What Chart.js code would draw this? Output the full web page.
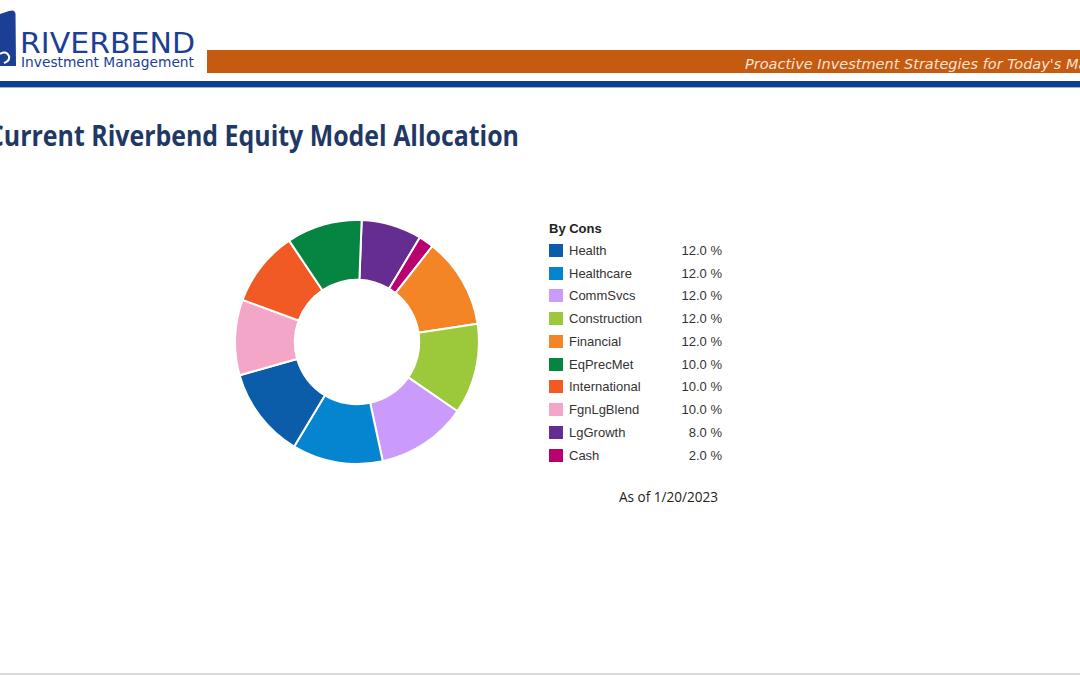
<!DOCTYPE html>
<html>
<head>
<meta charset="utf-8">
<script src="https://cdn.jsdelivr.net/npm/chart.js@4.4.0/dist/chart.umd.min.js"></script>
<style>
  html, body { margin: 0; padding: 0; background: #fff; }
  body { width: 1080px; height: 675px; position: relative; overflow: hidden; font-family: "Liberation Sans", Arial, sans-serif; }
  .abs { position: absolute; white-space: nowrap; }
  .fit { display: inline-block; transform-origin: left center; }
  #orangeBar { left: 207px; top: 50px; width: 873px; height: 23px; background: #C55A11; overflow: hidden; }
  #slogan { left: 538px; top: 5px; font-family: "DejaVu Sans", sans-serif; font-style: italic; font-size: 14.5px; color: #F6E3D3; line-height: 18px; }
  #blueLine { left: 0; top: 81px; width: 1080px; height: 6px; background: #0B3F8F; border-bottom: 1px solid #9fb3d6; }
  #brand { left: 20px; top: 31px; font-family: "DejaVu Sans", sans-serif; font-size: 29px; color: #1C3F94; line-height: 24px; }
  #brandSub { left: 21px; top: 56px; font-family: "DejaVu Sans", sans-serif; font-size: 14px; color: #1C3F94; line-height: 12px; }
  #title { left: -12px; top: 119px; font-family: "Open Sans", sans-serif; font-weight: 700; font-size: 28px; color: #1F3864; line-height: 32px; }
  #chartBox { left: 234px; top: 219px; width: 246px; height: 246px; }
  #legend { left: 549px; top: 219px; width: 175px; color: #333; font-size: 13px; }
  #legend .head { font-weight: 700; color: #222; height: 20px; line-height: 20px; }
  #legend .row { display: flex; align-items: center; height: 22.75px; }
  #legend .sw { width: 14px; height: 13px; margin-right: 6px; flex: none; }
  #legend .lbl { flex: 1; }
  #legend .val { width: 60px; text-align: right; margin-right: 2px; }
  #asOf { left: 619px; top: 487px; font-family: "Open Sans", sans-serif; font-size: 14px; color: #222; line-height: 20px; }
  #footLine { left: 0; top: 673px; width: 1080px; height: 2px; background: #d9d9d9; }
</style>
</head>
<body>

<svg class="abs" style="left:0;top:8px" width="18" height="60" viewBox="0 0 18 60">
  <path d="M0 6 L9 3 Q15 1 15.5 6 L16 58 L0 58 Z" fill="#1C3F94"/>
  <path d="M0 46 Q6 42 9 48 Q10 53 4 55" stroke="#fff" stroke-width="2" fill="none"/>
</svg>
<div class="abs" id="brand"><span class="fit" data-w="175">RIVERBEND</span></div>
<div class="abs" id="brandSub"><span class="fit" data-w="173">Investment Management</span></div>

<div class="abs" id="orangeBar"><div class="abs" id="slogan">Proactive Investment Strategies for Today's Markets</div></div>
<div class="abs" id="blueLine"></div>

<div class="abs" id="title"><span class="fit" data-w="531">Current Riverbend Equity Model Allocation</span></div>

<div class="abs" id="chartBox"><canvas id="allocChart" width="246" height="246"></canvas></div>
<div class="abs" id="legend"></div>
<div class="abs" id="asOf"><span class="fit" data-w="99">As of 1/20/2023</span></div>
<div class="abs" id="footLine"></div>

<script>
// legend order
const categories = ['Health', 'Healthcare', 'CommSvcs', 'Construction', 'Financial',
                    'EqPrecMet', 'International', 'FgnLgBlend', 'LgGrowth', 'Cash'];
const weights = [12.0, 12.0, 12.0, 12.0, 12.0, 10.0, 10.0, 10.0, 8.0, 2.0];
const sliceColors = ['#0B5CA9', '#0585CF', '#CB9BFC', '#9BC93B', '#F48526',
                     '#068441', '#F15A24', '#F4A6C8', '#652D90', '#B8006F'];
// order the slices go round the ring, clockwise from the top
const ringOrder = ['LgGrowth', 'Cash', 'Financial', 'Construction', 'CommSvcs',
                   'Healthcare', 'Health', 'FgnLgBlend', 'International', 'EqPrecMet'];
const legendTitle = 'By Cons';

// squeeze/stretch text blocks to the widths measured on the original
document.querySelectorAll('.fit').forEach(el => {
    const w = el.getBoundingClientRect().width;
    el.style.transform = 'scaleX(' + (parseFloat(el.dataset.w) / w) + ')';
});

// html legend
const legend = document.getElementById('legend');
legend.innerHTML = '<div class="head">' + legendTitle + '</div>' +
    categories.map((c, i) =>
        '<div class="row"><span class="sw" style="background:' + sliceColors[i] + '"></span>' +
        '<span class="lbl">' + c + '</span><span class="val">' + weights[i].toFixed(1) + ' %</span></div>'
    ).join('');

const idx = ringOrder.map(c => categories.indexOf(c));

new Chart(document.getElementById('allocChart'), {
    type: 'doughnut',
    data: {
        labels: idx.map(i => categories[i]),
        datasets: [{
            data: idx.map(i => weights[i]),
            backgroundColor: idx.map(i => sliceColors[i]),
            borderColor: '#ffffff',
            borderWidth: 2,
            hoverOffset: 0
        }]
    },
    options: {
        responsive: false,
        animation: false,
        events: [],
        cutout: '51%',
        rotation: 2.2,
        layout: { padding: 0 },
        plugins: {
            legend: { display: false },
            tooltip: { enabled: false }
        }
    }
});
</script>
</body>
</html>
